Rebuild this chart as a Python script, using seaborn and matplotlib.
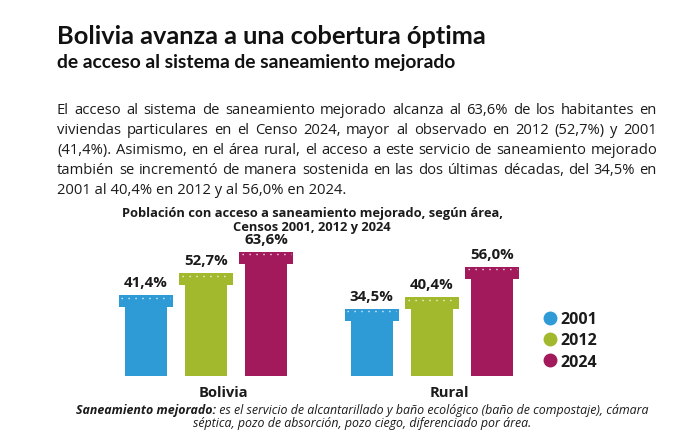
import numpy as np
import pandas as pd
import matplotlib
matplotlib.use("Agg")
import matplotlib.pyplot as plt
from matplotlib.patches import Rectangle
from matplotlib.lines import Line2D
import seaborn as sns

# ── Data ─────────────────────────────────────────────────────
areas   = ["Bolivia", "Rural"]
censos  = ["2001", "2012", "2024"]
bolivia = [41.4, 52.7, 63.6]
rural   = [34.5, 40.4, 56.0]
colores = ["#2E9BD6", "#A2B92E", "#A21A5B"]

titulo    = "Bolivia avanza a una cobertura óptima"
subtitulo = "de acceso al sistema de saneamiento mejorado"
parrafo = [
    "El acceso al sistema de saneamiento mejorado alcanza al 63,6% de los habitantes en",
    "viviendas particulares en el Censo 2024, mayor al observado en 2012 (52,7%) y 2001",
    "(41,4%). Asimismo, en el área rural, el acceso a este servicio de saneamiento mejorado",
    "también se incrementó de manera sostenida en las dos últimas décadas, del 34,5% en",
    "2001 al 40,4% en 2012 y al 56,0% en 2024.",
]
titulo_graf = ["Población con acceso a saneamiento mejorado, según área,",
               "Censos 2001, 2012 y 2024"]
nota_bold = "Saneamiento mejorado:"
nota_1 = " es el servicio de alcantarillado y baño ecológico (baño de compostaje), cámara"
nota_2 = "séptica, pozo de absorción, pozo ciego, diferenciado por área."

df = pd.DataFrame({
    "area":  np.repeat(areas, len(censos)),
    "censo": censos * len(areas),
    "valor": bolivia + rural,
})

# ── Figure (pixel helpers) ───────────────────────────────────
W, H = 683, 439
fig = plt.figure(figsize=(W / 100, H / 100), dpi=100)
fig.patch.set_facecolor("white")
r = fig.canvas.get_renderer()

def fx(x): return x / W
def fy(y): return 1 - y / H

TXT  = "#1b1b1b"
HEAD = "Lato"
BODY = "Open Sans"
GRAF = "Open Sans"

# titles
fig.text(fx(57), fy(44), titulo, family=HEAD, weight="bold", size=18.3,
         color="#111111", va="baseline")
fig.text(fx(57), fy(68), subtitulo, family=HEAD, weight="bold", size=13.9,
         color="#111111", va="baseline")

# justified paragraph
x_left, x_right = 57, 657
for i, line in enumerate(parrafo):
    yb = 114 + 20 * i
    if i == len(parrafo) - 1:
        fig.text(fx(x_left), fy(yb), line, family=BODY, size=10.6,
                 color=TXT, va="baseline")
        continue
    words = line.split()
    arts = [fig.text(0, fy(yb), w, family=BODY, size=10.6, color=TXT,
                     va="baseline") for w in words]
    widths = [a.get_window_extent(r).width for a in arts]
    gap = (x_right - x_left - sum(widths)) / (len(words) - 1)
    x = x_left
    for a, w in zip(arts, widths):
        a.set_x(fx(x))
        x += w + gap

# chart title
fig.text(fx(312), fy(213), titulo_graf[0], family=GRAF, weight="bold",
         size=9.3, color=TXT, ha="center", va="center")
fig.text(fx(312), fy(228), titulo_graf[1], family=GRAF, weight="bold",
         size=9.3, color=TXT, ha="center", va="center")

# ── Bars ─────────────────────────────────────────────────────
PX_UNIT = 1.95          # pixels per percentage point
ax = fig.add_axes([fx(90), fy(377), (540 - 90) / W, (377 - 217) / H])
sns.barplot(data=df, x="area", y="valor", hue="censo", palette=colores,
            width=0.8, gap=0.3, saturation=1, legend=False, ax=ax)
ax.set_xlim(-0.513, 1.478)
ax.set_ylim(0, 160 / PX_UNIT)
ax.axis("off")

cap_h = 12 / PX_UNIT
extra = 6 / 226
for p in list(ax.patches):
    x0, w, h = p.get_x(), p.get_width(), p.get_height()
    c = p.get_facecolor()
    ax.add_patch(Rectangle((x0 - extra, h - cap_h), w + 2 * extra, cap_h,
                           facecolor=c, edgecolor="none"))
    ax.plot([x0 - extra + 0.012, x0 + w + extra - 0.012],
            [h - 2.5 / PX_UNIT] * 2, color="white", lw=1.0,
            ls=(0, (1, 4)), alpha=0.85, solid_capstyle="round")
    ax.text(x0 + w / 2, h + 6 / PX_UNIT, f"{h:.1f}%".replace(".", ","),
            ha="center", va="bottom", family=GRAF, weight="bold",
            size=10.8, color=TXT)

for i, a in enumerate(areas):
    ax.text(i + 0.078, -16 / PX_UNIT, a, ha="center", va="center",
            family=GRAF, weight="bold", size=10.6, color=TXT, clip_on=False)

# legend
handles = [Line2D([], [], marker="o", ls="", color=c, markersize=9)
           for c in colores]
fig.legend(handles, censos, loc="upper left",
           bbox_to_anchor=(fx(536), fy(306)), frameon=False,
           handlelength=1.0, handletextpad=0.15, labelspacing=0.32,
           borderaxespad=0,
           prop=dict(family=GRAF, weight="bold", size=11.5),
           labelcolor=TXT)

# footnote
t1 = fig.text(0, fy(411), nota_bold, family=GRAF, weight="bold",
              style="italic", size=8.9, color=TXT, va="center")
t2 = fig.text(0, fy(411), nota_1, family=GRAF, style="italic", size=8.9,
              color=TXT, va="center")
w1 = t1.get_window_extent(r).width
w2 = t2.get_window_extent(r).width
x0 = 362 - (w1 + w2) / 2
t1.set_x(fx(x0))
t2.set_x(fx(x0 + w1))
fig.text(fx(362), fy(424), nota_2, family=GRAF, style="italic", size=8.9,
         color=TXT, ha="center", va="center")

fig.savefig("out.png", dpi=100, facecolor="white")
